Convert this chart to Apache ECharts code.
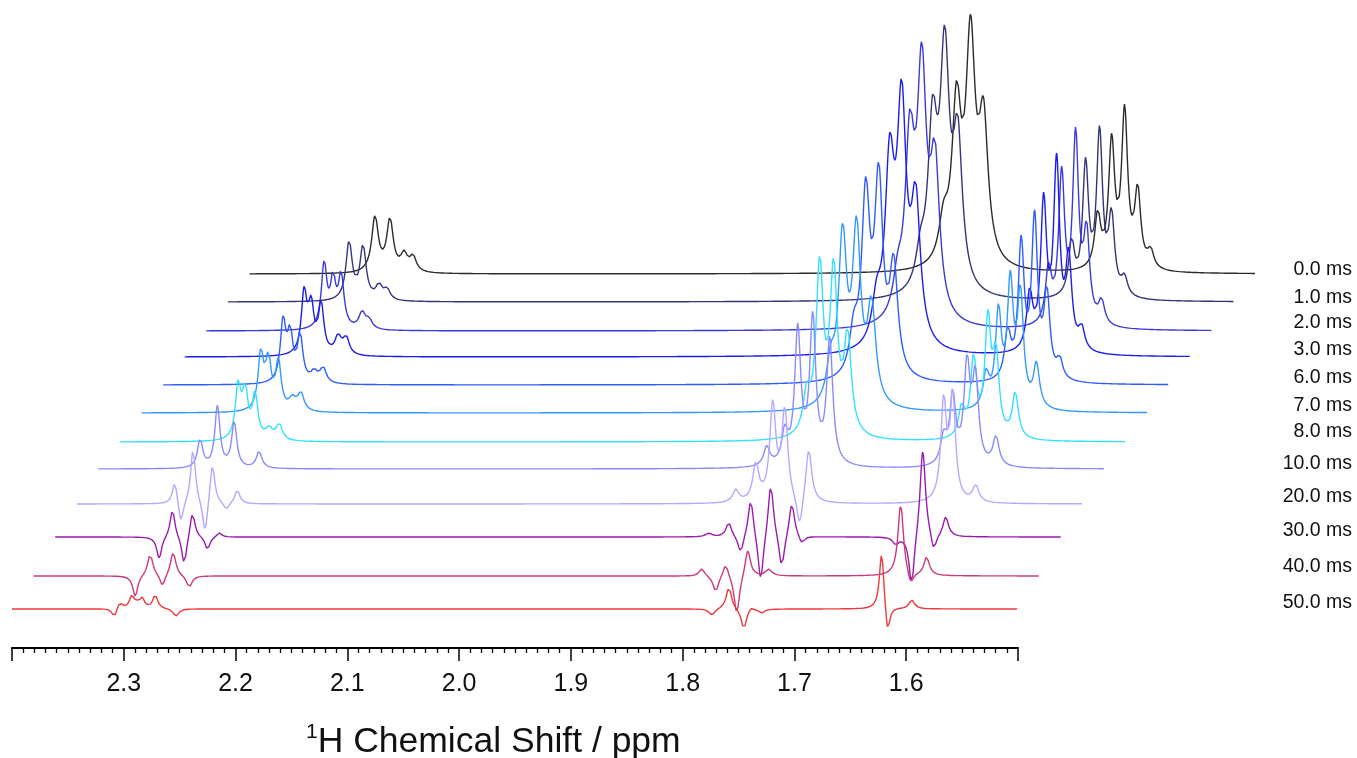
<!DOCTYPE html>
<html><head><meta charset="utf-8">
<script src="https://cdn.jsdelivr.net/npm/echarts/dist/echarts.min.js"></script>
<style>html,body{margin:0;padding:0;background:#fff}#chart{width:1357px;height:758px}</style>
</head><body><div id="chart"></div>
<script>
// ---- data ----
const delayLabels = ['0.0 ms','1.0 ms','2.0 ms','3.0 ms','6.0 ms','7.0 ms','8.0 ms','10.0 ms','20.0 ms','30.0 ms','40.0 ms','50.0 ms'];
const traceColors = ['#2b2b2b','#34347a','#3a3ad6','#1c1cf0','#2e5cff','#3399ff','#33e0ff','#8a8aff','#b6a8ff','#9a1ab0','#cc3a7a','#ee3a3a'];
const baselineLevels = [374, 346, 317, 291, 263, 235, 206, 179, 144, 111, 72, 39];   // vertical stack offsets
const stackShiftPpm = 0.01932;  // horizontal stack offset per trace step (ppm)
const axisTicks = [2.3, 2.2, 2.1, 2.0, 1.9, 1.8, 1.7, 1.6];

// peak lists: [chemical shift ppm, height, half-width ppm]
const peaks_00ms = [[2.2876,59,.0036],[2.2742,57,.0036],[2.2616,24,.0036],[2.2536,20,.0036],
  [1.7787,74,.005],[1.7671,194,.005],[1.7546,260,.005],[1.7430,177,.005],
  [1.6408,65,.0033],[1.6283,141,.0033],[1.6167,170,.0033],[1.6050,91,.0033],[1.5934,28,.0033]];
const peaks_01ms = [[2.2915,62,.0034],[2.2790,58,.0034],[2.2647,20,.0034],[2.2575,15,.0034],
  [1.7800,75,.005],[1.7692,208,.005],[1.7584,278,.005],[1.7468,189,.005],
  [1.6448,65,.0033],[1.6323,145,.0033],[1.6198,177,.0033],[1.6091,95,.0033],[1.5975,29,.0033]];
const peaks_02ms = [[2.2945,71,.003],[2.2865,61,.003],[2.2793,61,.003],[2.2605,21,.0034],[2.2542,14,.0034],
  [1.7811,80,.005],[1.7703,223,.005],[1.7596,290,.005],[1.7479,194,.005],
  [1.6461,70,.0033],[1.6344,165,.0033],[1.6219,204,.0033],[1.6121,111,.0033],[1.5987,34,.0033]];
const peaks_03ms = [[2.2931,71,.003],[2.2868,62,.003],[2.2779,57,.003],[2.2627,24,.0034],[2.2555,22,.0034],
  [1.7806,80,.005],[1.7690,224,.005],[1.7583,279,.005],[1.7457,176,.005],
  [1.6437,70,.0033],[1.6312,165,.0033],[1.6196,204,.0033],[1.6088,110,.0033],[1.5972,34,.0033]];
const peaks_06ms = [[2.2926,70,.003],[2.2863,62,.003],[2.2774,54,.003],[2.2648,17,.0034],[2.2568,19,.0034],
  [1.7818,75,.0045],[1.7711,209,.0045],[1.7595,224,.0045],[1.7461,132,.0045],
  [1.6440,60,.0033],[1.6320,150,.0033],[1.6200,175,.0033],[1.6090,100,.0033],[1.5975,30,.0033]];
const peaks_07ms = [[2.2932,66,.003],[2.2864,63,.003],[2.2775,56,.003],[2.2649,19,.0034],[2.2574,22,.0034],
  [1.7831,70,.0045],[1.7725,191,.0045],[1.7600,198,.0045],[1.7466,119,.0045],
  [1.6440,45,.0033],[1.6330,110,.0033],[1.6224,143,.0033],[1.6134,130,.0033],[1.5990,52,.0033]];
const peaks_08ms = [[2.2942,63,.003],[2.2879,61,.003],[2.2790,52,.003],[2.2665,17,.0034],[2.2575,19,.0034],
  [1.7853,60,.004],[1.7737,187,.004],[1.7612,185,.004],[1.7487,115,.004],
  [1.6466,40,.0033],[1.6359,90,.0033],[1.6231,133,.0033],[1.6159,101,.0033],[1.5986,51,.0033]];
const peaks_10ms = [[2.3089,31,.0028],[2.2934,64,.0028],[2.2784,48,.0028],[2.2561,18,.003],
  [1.8017,24,.0033],[1.7856,45,.0033],[1.7740,146,.0033],[1.7606,158,.0033],[1.7454,133,.0033],
  [1.6434,40,.0033],[1.6353,80,.0033],[1.6225,116,.0033],[1.6150,104,.0033],[1.5966,34,.0033]];
const peaks_20ms = [[2.3122,20,.0027],[2.3068,-15,.0027],[2.2959,54,.0027],[2.2851,-25,.0027],[2.2786,37,.0027],[2.2661,-5,.0027],[2.2563,14,.0027],
  [1.8101,15,.0033],[1.7922,43,.0033],[1.7770,105,.0033],[1.7663,98,.0033],[1.7529,-17,.0033],[1.7449,53,.0033],
  [1.6241,111,.003],[1.6160,116,.003],[1.5954,20,.0033]];
const peaks_30ms = [[2.3069,-21,.0027],[2.2950,26,.0027],[2.2845,-26,.0027],[2.2771,23,.0027],[2.2637,-12,.0027],[2.2532,4,.0027],
  [1.8149,4,.0033],[1.7971,14,.003],[1.7864,-14,.003],[1.7774,35,.003],[1.7685,-40,.003],[1.7595,50,.003],[1.7497,-28,.003],[1.7407,32,.003],[1.7318,-5,.003],
  [1.6477,-8,.003],[1.6334,-45,.003],[1.6235,85,.003],[1.6137,-10,.003],[1.6029,20,.003]];
const peaks_40ms = [[2.3090,-20,.0027],[2.2956,21,.003],[2.2846,-9,.0027],[2.2751,23,.003],[2.2607,-11,.003],
  [1.8019,7,.003],[1.7894,-15,.003],[1.7805,10,.003],[1.7706,-36,.003],[1.7608,25,.003],[1.7420,7,.0033],
  [1.6239,71,.003],[1.6150,-5,.003],[1.6007,19,.003]];
const peaks_50ms = [[2.3085,-7,.0025],[2.3034,6,.0025],[2.2927,14,.0027],[2.2880,9,.0025],[2.2835,12,.0025],[2.2718,14,.0027],[2.2533,-7,.003],
  [1.7736,-6,.003],[1.7584,21,.003],[1.7450,-19,.003],[1.7387,0,.003],[1.7289,-4,.003],
  [1.6216,54,.0025],[1.6163,-18,.0025],[1.5947,9,.003]];
const peakLists = [peaks_00ms,peaks_01ms,peaks_02ms,peaks_03ms,peaks_06ms,peaks_07ms,peaks_08ms,peaks_10ms,peaks_20ms,peaks_30ms,peaks_40ms,peaks_50ms];

// ---- line-shape model: Lorentzian lines whose summed curve passes through the read heights ----
function lor(x, p, w) { const d = x - p; return w * w / (d * d + w * w); }
function solveAmps(peaks) {
  const n = peaks.length;
  const M = peaks.map(pi => peaks.map(pj => lor(pi[0], pj[0], pj[2])));
  const b = peaks.map(p => p[1]);
  for (let c = 0; c < n; c++) {
    let piv = c;
    for (let r = c + 1; r < n; r++) if (Math.abs(M[r][c]) > Math.abs(M[piv][c])) piv = r;
    [M[c], M[piv]] = [M[piv], M[c]]; [b[c], b[piv]] = [b[piv], b[c]];
    for (let r = c + 1; r < n; r++) {
      const f = M[r][c] / M[c][c];
      for (let k = c; k < n; k++) M[r][k] -= f * M[c][k];
      b[r] -= f * b[c];
    }
  }
  const a = new Array(n).fill(0);
  for (let r = n - 1; r >= 0; r--) {
    let s = b[r];
    for (let k = r + 1; k < n; k++) s -= M[r][k] * a[k];
    a[r] = s / M[r][r];
  }
  return a;
}
const PPM_HI = 2.4, PPM_LO = 1.5, NPTS = 2250;
const nTr = peakLists.length;
const series = peakLists.map((peaks, i) => {
  const k = nTr - 1 - i;                // stack step (0 = front trace)
  const amps = solveAmps(peaks);
  const data = [];
  for (let s = 0; s <= NPTS; s++) {
    const ppm = PPM_HI - (PPM_HI - PPM_LO) * s / NPTS;
    let y = 0;
    for (let j = 0; j < peaks.length; j++) y += amps[j] * lor(ppm, peaks[j][0], peaks[j][2]);
    data.push([ppm - k * stackShiftPpm, baselineLevels[i] + y]);
  }
  return {
    type: 'line', name: delayLabels[i], data, xAxisIndex: 0, yAxisIndex: 0,
    showSymbol: false, symbol: 'none', silent: true, animation: false,
    lineStyle: { color: traceColors[i], width: 1.4 }, z: 2 + i
  };
});
series.push({ type: 'line', data: [], xAxisIndex: 1, yAxisIndex: 1 });

const labelY = [270, 298, 323, 350, 378, 406, 432, 464, 497, 531, 567, 603];
const chart = echarts.init(document.getElementById('chart'), null, { renderer: 'canvas' });
const FONT = 'Liberation Sans, Arial, sans-serif';
chart.setOption({
  backgroundColor: '#fff',
  animation: false,
  grid: [
    { left: 12, top: 0, width: 1243, height: 648, containLabel: false },
    { left: 12, top: 0, width: 1006, height: 648, containLabel: false }
  ],
  xAxis: [
    { gridIndex: 0, type: 'value', min: PPM_LO - (nTr - 1) * stackShiftPpm, max: PPM_HI, inverse: true, show: false },
    { gridIndex: 1, type: 'value', min: PPM_LO, max: PPM_HI, interval: 0.1, inverse: true, position: 'bottom',
      axisLine: { show: true, onZero: false, lineStyle: { color: '#000', width: 2 } },
      axisTick: { show: true, length: 13, lineStyle: { color: '#000', width: 1.5 } },
      minorTick: { show: true, splitNumber: 10, length: 5, lineStyle: { color: '#000', width: 1.3 } },
      splitLine: { show: false },
      axisLabel: { fontSize: 25, color: '#111', fontFamily: FONT, margin: 24,
        formatter: v => (axisTicks.some(t => Math.abs(t - v) < 1e-6) ? v.toFixed(1) : '') } }
  ],
  yAxis: [
    { gridIndex: 0, type: 'value', min: 0, max: 648, show: false },
    { gridIndex: 1, type: 'value', min: 0, max: 1, show: false }
  ],
  title: {
    text: '{s|1}{m|H Chemical Shift / ppm}', left: 301, top: 717,
    textStyle: { fontWeight: 'normal', rich: {
      s: { fontSize: 21, fontFamily: FONT, fontWeight: 'normal', color: '#111', verticalAlign: 'top', lineHeight: 40 },
      m: { fontSize: 35.5, fontFamily: FONT, fontWeight: 'normal', color: '#111', lineHeight: 40 }
    } }
  },
  graphic: delayLabels.map((t, i) => ({
    type: 'text', right: 5, top: labelY[i] - 10, silent: true,
    style: { text: t, font: '19.5px ' + FONT, fill: '#111', textAlign: 'right' }
  })),
  series
});
</script></body></html>
